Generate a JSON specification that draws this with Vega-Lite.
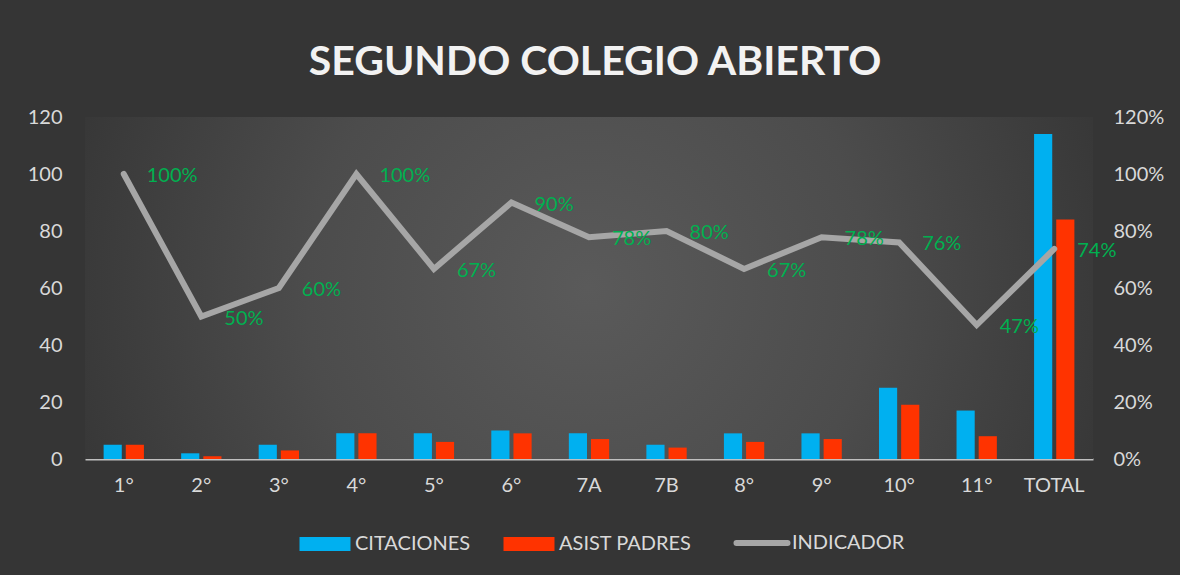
{
  "$schema": "https://vega.github.io/schema/vega-lite/v6.json",
  "width": 1008,
  "height": 342,
  "autosize": {"type": "none"},
  "padding": {"left": 85, "top": 117, "right": 87, "bottom": 116},
  "background": "#353535",
  "config": {"view": {"stroke": null}, "font": "Lato"},
  "title": {
    "text": "SEGUNDO COLEGIO ABIERTO",
    "font": "Lato",
    "fontSize": 41,
    "fontWeight": "bold",
    "color": "#f2f2f2",
    "anchor": "middle",
    "frame": "group",
    "offset": 23,
    "dx": 6
  },
  "datasets": {
    "d": [
      {"curso": "1°", "CITACIONES": 5, "ASIST PADRES": 5, "INDICADOR": 1.0},
      {"curso": "2°", "CITACIONES": 2, "ASIST PADRES": 1, "INDICADOR": 0.5},
      {"curso": "3°", "CITACIONES": 5, "ASIST PADRES": 3, "INDICADOR": 0.6},
      {"curso": "4°", "CITACIONES": 9, "ASIST PADRES": 9, "INDICADOR": 1.0},
      {"curso": "5°", "CITACIONES": 9, "ASIST PADRES": 6, "INDICADOR": 0.667},
      {"curso": "6°", "CITACIONES": 10, "ASIST PADRES": 9, "INDICADOR": 0.9},
      {"curso": "7A", "CITACIONES": 9, "ASIST PADRES": 7, "INDICADOR": 0.778},
      {"curso": "7B", "CITACIONES": 5, "ASIST PADRES": 4, "INDICADOR": 0.8},
      {"curso": "8°", "CITACIONES": 9, "ASIST PADRES": 6, "INDICADOR": 0.667},
      {"curso": "9°", "CITACIONES": 9, "ASIST PADRES": 7, "INDICADOR": 0.778},
      {"curso": "10°", "CITACIONES": 25, "ASIST PADRES": 19, "INDICADOR": 0.76},
      {"curso": "11°", "CITACIONES": 17, "ASIST PADRES": 8, "INDICADOR": 0.47},
      {"curso": "TOTAL", "CITACIONES": 114, "ASIST PADRES": 84, "INDICADOR": 0.737}
    ]
  },
  "layer": [
    {
      "data": {"values": [{}]},
      "mark": {
        "type": "rect",
        "fill": {
          "gradient": "radial",
          "x1": 0.5, "y1": 0.5, "r1": 0,
          "x2": 0.5, "y2": 0.5, "r2": 0.56,
          "stops": [
            {"offset": 0, "color": "#5a5a5a"},
            {"offset": 0.5, "color": "#4c4c4c"},
            {"offset": 1, "color": "#353535"}
          ]
        }
      },
      "encoding": {}
    },
    {
      "data": {"name": "d"},
      "transform": [{"fold": ["CITACIONES", "ASIST PADRES"], "as": ["serie", "valor"]}],
      "mark": {"type": "bar"},
      "encoding": {
        "x": {
          "field": "curso",
          "type": "nominal",
          "scale": {
            "domain": ["1°", "2°", "3°", "4°", "5°", "6°", "7A", "7B", "8°", "9°", "10°", "11°", "TOTAL"],
            "paddingInner": 0.48,
            "paddingOuter": 0.24
          },
          "axis": {
            "title": null,
            "labelAngle": 0,
            "ticks": false,
            "grid": false,
            "domainColor": "#bfbfbf",
            "domainWidth": 2,
            "labelColor": "#d9d9d9",
            "labelFont": "Lato",
            "labelFontSize": 20,
            "labelPadding": 16
          }
        },
        "xOffset": {
          "field": "serie",
          "type": "nominal",
          "scale": {"domain": ["CITACIONES", "ASIST PADRES"], "paddingInner": 0.18, "paddingOuter": 0}
        },
        "y": {
          "field": "valor",
          "type": "quantitative",
          "scale": {"domain": [0, 120]},
          "axis": {
            "title": null,
            "orient": "left",
            "values": [0, 20, 40, 60, 80, 100, 120],
            "domain": false,
            "ticks": false,
            "grid": false,
            "labelColor": "#d9d9d9",
            "labelFont": "Lato",
            "labelFontSize": 20,
            "labelPadding": 23
          }
        },
        "color": {
          "field": "serie",
          "type": "nominal",
          "scale": {
            "domain": ["CITACIONES", "ASIST PADRES", "INDICADOR"],
            "range": ["#00B0F0", "#FF3300", "#A6A6A6"]
          },
          "legend": {
            "title": null,
            "orient": "none",
            "direction": "horizontal",
            "legendX": 230,
            "legendY": 416,
            "labelFont": "Lato",
            "labelFontSize": 20,
            "labelColor": "#d9d9d9",
            "labelOffset": 20,
            "columnPadding": 32,
            "symbolSize": 2601,
            "symbolOpacity": 1,
            "encode": {
              "symbols": {
                "update": {
                  "shape": {"signal": "datum.value === 'INDICADOR' ? 'stroke' : 'M-1,-0.275H1V0.275H-1Z'"},
                  "fill": {"signal": "datum.value === 'INDICADOR' ? 'transparent' : (datum.value === 'CITACIONES' ? '#00B0F0' : '#FF3300')"},
                  "stroke": {"signal": "datum.value === 'INDICADOR' ? '#A6A6A6' : 'transparent'"},
                  "strokeWidth": {"signal": "datum.value === 'INDICADOR' ? 6 : 0"},
                  "strokeCap": {"value": "round"},
                  "opacity": {"value": 1}
                }
              }
            }
          }
        }
      }
    },
    {
      "data": {"name": "d"},
      "encoding": {
        "x": {"field": "curso", "type": "nominal"},
        "y": {
          "field": "INDICADOR",
          "type": "quantitative",
          "scale": {"domain": [0, 1.2]},
          "axis": {
            "title": null,
            "orient": "right",
            "values": [0, 0.2, 0.4, 0.6, 0.8, 1.0, 1.2],
            "format": ".0%",
            "domain": false,
            "ticks": false,
            "grid": false,
            "labelColor": "#d9d9d9",
            "labelFont": "Lato",
            "labelFontSize": 20,
            "labelPadding": 20
          }
        }
      },
      "layer": [
        {
          "mark": {"type": "line", "strokeWidth": 6, "strokeCap": "round"},
          "encoding": {"color": {"datum": "INDICADOR"}}
        },
        {
          "mark": {"type": "text", "align": "left", "baseline": "middle", "dx": 23, "dy": 2, "fill": "#00B050", "font": "Lato", "fontSize": 20},
          "encoding": {"text": {"field": "INDICADOR", "type": "quantitative", "format": ".0%"}}
        }
      ]
    }
  ],
  "resolve": {"scale": {"y": "independent"}}
}
